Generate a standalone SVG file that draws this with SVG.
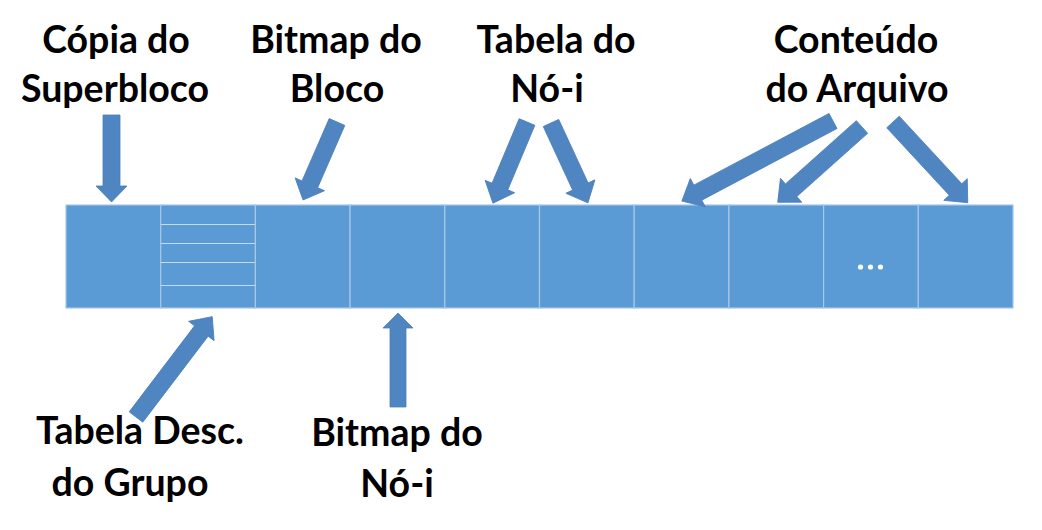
<svg xmlns="http://www.w3.org/2000/svg" width="1042" height="530" viewBox="0 0 1042 530">
<style>
.cell{fill:#5B9BD5;stroke:#A7C7E7;stroke-width:1.2}
.sub{stroke:#C5DBF0;stroke-width:1.2}
.arrow{fill:#4F86C2;stroke:#4A7EBB;stroke-width:0.8}
.lbl{font-family:Lato,"Liberation Sans",sans-serif;font-weight:bold;font-size:37.5px;fill:#000;text-anchor:middle}
.dot{fill:#FFFFFF}
</style>
<rect width="1042" height="530" fill="#FFFFFF"/>
<g id="bar">
<rect id="cell1" class="cell" x="66" y="205" width="94.7" height="103"/>
<g id="cell2">
<rect class="cell" x="160.7" y="205" width="94.7" height="103"/>
<line class="sub" x1="160.7" y1="224.5" x2="255.4" y2="224.5"/>
<line class="sub" x1="160.7" y1="243.5" x2="255.4" y2="243.5"/>
<line class="sub" x1="160.7" y1="262.5" x2="255.4" y2="262.5"/>
<line class="sub" x1="160.7" y1="285.5" x2="255.4" y2="285.5"/>
</g>
<rect id="cell3" class="cell" x="255.4" y="205" width="94.7" height="103"/>
<rect id="cell4" class="cell" x="350.1" y="205" width="94.7" height="103"/>
<rect id="cell5" class="cell" x="444.8" y="205" width="94.7" height="103"/>
<rect id="cell6" class="cell" x="539.5" y="205" width="94.7" height="103"/>
<rect id="cell7" class="cell" x="634.2" y="205" width="94.7" height="103"/>
<rect id="cell8" class="cell" x="728.9" y="205" width="94.7" height="103"/>
<g id="cell9">
<rect class="cell" x="823.6" y="205" width="94.7" height="103"/>
<circle class="dot" cx="860.5" cy="267" r="2.6"/>
<circle class="dot" cx="870.5" cy="267" r="2.6"/>
<circle class="dot" cx="880.5" cy="267" r="2.6"/>
</g>
<rect id="cell10" class="cell" x="918.3" y="205" width="94.7" height="103"/>
</g>
<g id="connectors">
<path class="arrow" transform="translate(111.5,115) rotate(90)" d="M0,-8.5 L71,-8.5 L71,-15.5 L87,0 L71,15.5 L71,8.5 L0,8.5 Z"/>
<path class="arrow" transform="translate(337,122) rotate(113.55)" d="M0,-8.5 L68,-8.5 L68,-16 L85,0 L68,16 L68,8.5 L0,8.5 Z"/>
<path class="arrow" transform="translate(527,122) rotate(112.77)" d="M0,-8.5 L70,-8.5 L70,-16 L88,0 L70,16 L70,8.5 L0,8.5 Z"/>
<path class="arrow" transform="translate(551,123) rotate(65.18)" d="M0,-8.5 L70,-8.5 L70,-16 L88,0 L70,16 L70,8.5 L0,8.5 Z"/>
<path class="arrow" transform="translate(833,121) rotate(152.08)" d="M0,-8.5 L153,-8.5 L153,-16 L171,0 L153,16 L153,8.5 L0,8.5 Z"/>
<path class="arrow" transform="translate(862,127) rotate(138.24)" d="M0,-8.5 L95,-8.5 L95,-16 L113,0 L95,16 L95,8.5 L0,8.5 Z"/>
<path class="arrow" transform="translate(893,122) rotate(47.2)" d="M0,-8.5 L92,-8.5 L92,-16 L110,0 L92,16 L92,8.5 L0,8.5 Z"/>
<path class="arrow" transform="translate(136,417) rotate(-52.77)" d="M0,-8.5 L108,-8.5 L108,-16 L126,0 L108,16 L108,8.5 L0,8.5 Z"/>
<path class="arrow" transform="translate(398,407) rotate(-90)" d="M0,-8 L79,-8 L79,-15 L94,0 L79,15 L79,8 L0,8 Z"/>
</g>
<g id="label-copia">
<text class="lbl" x="116" y="53">Cópia do</text>
<text class="lbl" x="115" y="102">Superbloco</text>
</g>
<g id="label-bitmap-bloco">
<text class="lbl" x="336" y="53">Bitmap do</text>
<text class="lbl" x="337" y="102">Bloco</text>
</g>
<g id="label-tabela-noi">
<text class="lbl" x="556" y="53">Tabela do</text>
<text class="lbl" x="547" y="102">Nó-i</text>
</g>
<g id="label-conteudo">
<text class="lbl" x="856" y="53">Conteúdo</text>
<text class="lbl" x="857" y="102">do Arquivo</text>
</g>
<g id="label-tabela-desc">
<text class="lbl" x="140" y="444">Tabela Desc.</text>
<text class="lbl" x="130" y="496">do Grupo</text>
</g>
<g id="label-bitmap-noi">
<text class="lbl" x="397" y="446">Bitmap do</text>
<text class="lbl" x="397" y="497">Nó-i</text>
</g>
</svg>
